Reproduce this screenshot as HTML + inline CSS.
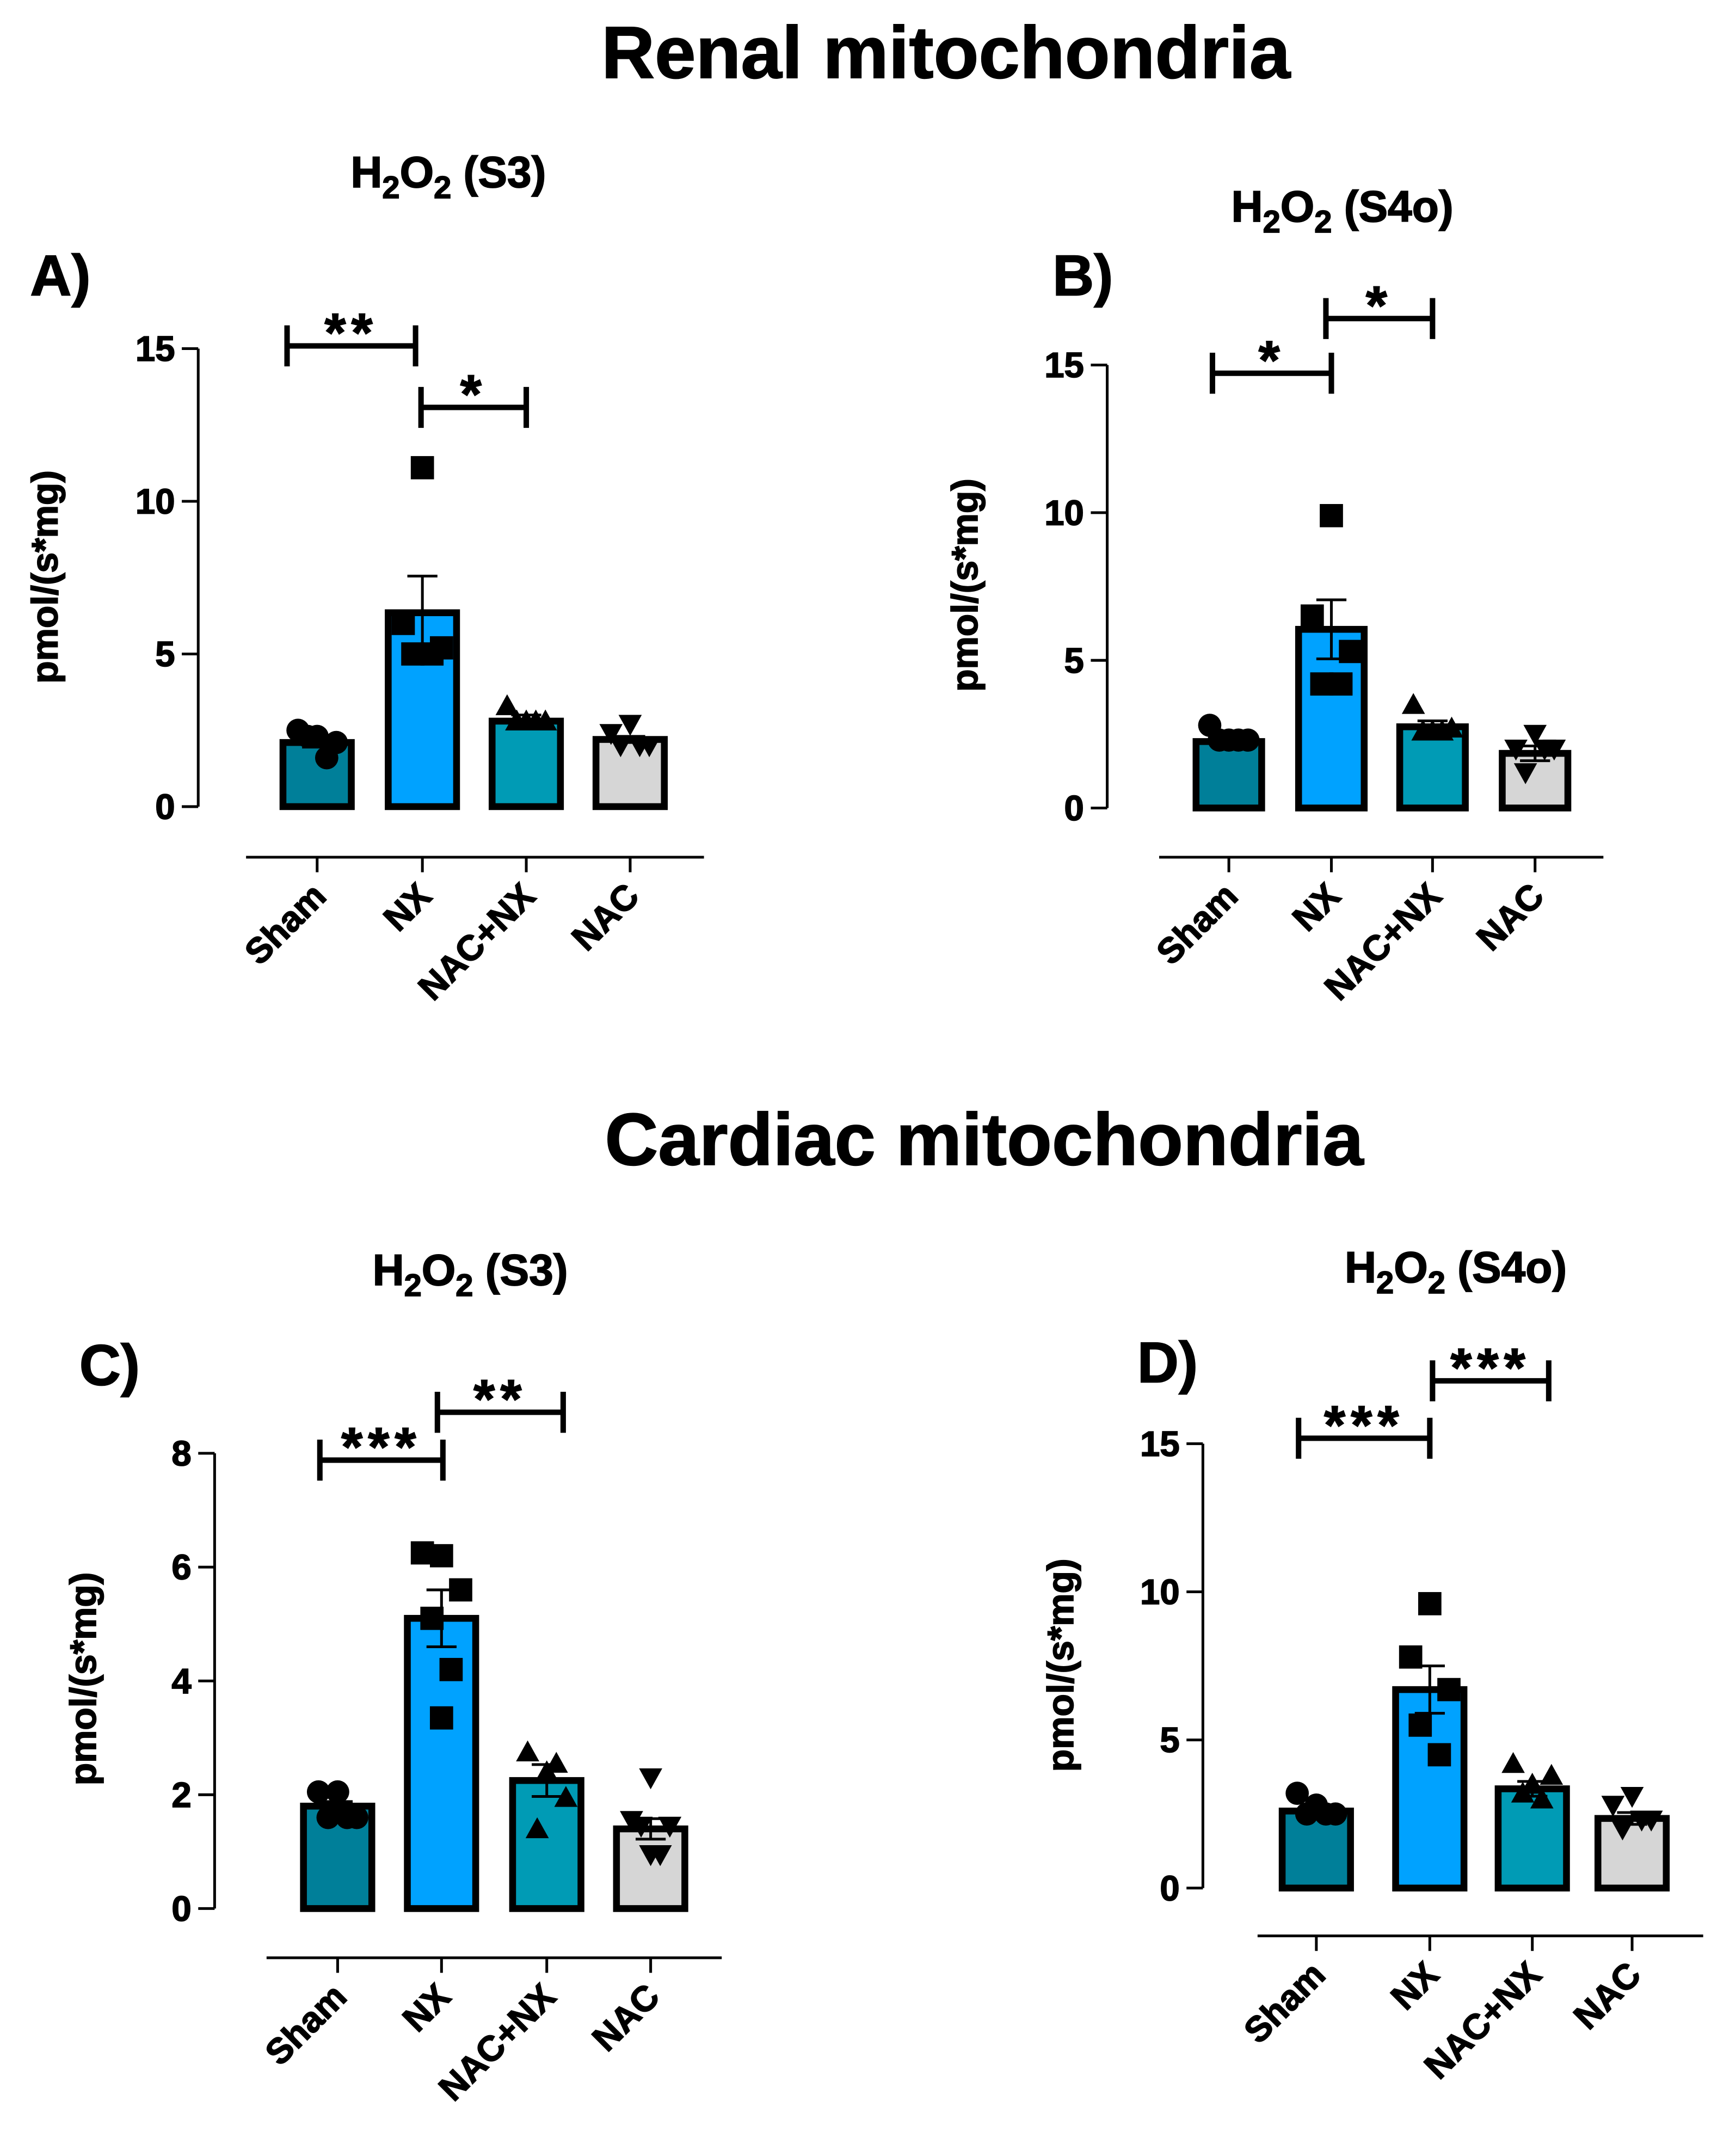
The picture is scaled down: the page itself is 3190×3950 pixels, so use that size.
<!DOCTYPE html>
<html><head><meta charset="utf-8"><style>
html,body{margin:0;padding:0;background:#fff;}
svg{display:block;font-family:"Liberation Sans",Arial,sans-serif;font-weight:bold;}
svg text{stroke:#000;stroke-width:0.7;}
</style></head><body>
<svg id="fig" width="3190" height="3950" viewBox="0 0 1270 1572.6" xmlns="http://www.w3.org/2000/svg">
<rect width="1270" height="1573" fill="#fff"/>
<text x="692" y="57" font-size="54" text-anchor="middle">Renal mitochondria</text>
<text x="720" y="852" font-size="54" text-anchor="middle">Cardiac mitochondria</text>
</svg>
<script>
const categories=["Sham","NX","NAC+NX","NAC"];
const colors=["#007f99","#00a2ff","#009bb5","#d6d6d6"];
const markers=["circle","square","triangle","tridown"];
const meansA=[2.1,6.35,2.8,2.2];
const errA=[0.15,1.2,0.2,0.1];
const ptsA=[[2.5,2.3,2.1,2.3,1.6],[11.1,6.0,5.2,5.0,5.0],[3.3,2.8,2.8,2.8,2.8],[2.7,2.4,2.0,2.0,2.0]];
const meansB=[2.25,6.05,2.75,1.85];
const errB=[0.15,1.0,0.2,0.25];
const ptsB=[[2.8,2.3,2.3,2.3,2.3],[9.9,6.5,5.3,4.2,4.2],[3.5,2.6,2.7,2.6,2.6],[2.5,2.0,2.0,1.2,2.0]];
const meansC=[1.8,5.1,2.25,1.4];
const errC=[0.08,0.5,0.28,0.18];
const ptsC=[[2.05,2.05,1.6,1.6,1.6],[6.2,6.25,5.6,5.1,4.2,3.35],[2.75,2.4,1.95,1.4,2.55],[2.3,1.55,1.45,1.45,0.95,0.95]];
const meansD=[2.6,6.7,3.35,2.35];
const errD=[0.2,0.8,0.25,0.2];
const ptsD=[[3.2,2.8,2.5,2.5,2.5],[9.6,7.8,6.7,5.5,4.5],[4.2,3.5,3.8,3.2,3.0],[3.1,2.8,2.3,2.0,2.3]];
const ticksA=[0,5,10,15], ticksC=[0,2,4,6,8];

const NS="http://www.w3.org/2000/svg";
const svg=document.getElementById('fig');
function mk(tag,attrs,parent,txt){const e=document.createElementNS(NS,tag);for(const k in attrs)e.setAttribute(k,attrs[k]);if(txt!==undefined)e.textContent=txt;(parent||svg).appendChild(e);return e;}

const panels=[
 {id:"a",letter:"A)",lx:22,ly:216,tx:328,ty:137,ax:145,y0:590,ymax:15,ytop:255,cx:[232,309,385,461],bw:50,caty:627,cx0:180,cx1:515,ylx:32,yly:422,
  means:meansA,err:errA,pts:ptsA,ticks:ticksA,
  sig:[{x1:210,x2:304,y:253,s:"**"},{x1:308,x2:385,y:298,s:"*"}]},
 {id:"b",letter:"B)",lx:770,ly:216,tx:982,ty:162,ax:810,y0:591,ymax:15,ytop:267,cx:[899,974,1048,1123],bw:48,caty:627,cx0:848,cx1:1173,ylx:705,yly:428,
  means:meansB,err:errB,pts:ptsB,ticks:ticksA,
  sig:[{x1:887,x2:974,y:273,s:"*"},{x1:970,x2:1048,y:233,s:"*"}]},
 {id:"c",letter:"C)",lx:58,ly:1013,tx:344,ty:940,ax:157,y0:1396,ymax:8,ytop:1063,cx:[247,323,400,476],bw:50,caty:1432,cx0:195,cx1:528,ylx:60,yly:1228,
  means:meansC,err:errC,pts:ptsC,ticks:ticksC,
  sig:[{x1:234,x2:324,y:1068,s:"***"},{x1:320,x2:412,y:1033,s:"**"}]},
 {id:"d",letter:"D)",lx:832,ly:1011,tx:1065,ty:938,ax:880,y0:1381,ymax:15,ytop:1056,cx:[963,1046,1121,1194],bw:50,caty:1416,cx0:920,cx1:1246,ylx:775,yly:1218,
  means:meansD,err:errD,pts:ptsD,ticks:ticksA,
  sig:[{x1:950,x2:1046,y:1052,s:"***"},{x1:1048,x2:1133,y:1010,s:"***"}]}
];
const jitter=[[-14,0,14,-7,7,0],[0,-14,14,-7,7,0]];
panels.forEach(p=>{
 const g=mk('g',{});
 
 
 const Y=v=>p.y0-(v/p.ymax)*(p.y0-p.ytop);
 let t=mk('text',{x:p.lx,y:p.ly,'font-size':42},g,p.letter);
 
 t=mk('text',{x:p.tx,y:p.ty,'font-size':32,'text-anchor':'middle'},g);
 
 t.innerHTML='H<tspan font-size="23" dy="8">2</tspan><tspan dy="-8">O</tspan><tspan font-size="23" dy="8">2</tspan><tspan dy="-8"> ('+(p.id==='a'||p.id==='c'?'S3':'S4o')+')</tspan>';
 let a=mk('line',{x1:p.ax,y1:p.y0,x2:p.ax,y2:p.ytop,stroke:'#000','stroke-width':2},g);
 
 p.ticks.forEach(v=>{
  mk('line',{x1:p.ax-12,y1:Y(v),x2:p.ax,y2:Y(v),stroke:'#000','stroke-width':2},g);
  const tl=mk('text',{x:p.ax-17,y:Y(v)+9,'font-size':26,'text-anchor':'end'},g,String(v));
  
 });
 const yl=mk('text',{x:p.ylx,y:p.yly,'font-size':27,'text-anchor':'middle',transform:`rotate(-90 ${p.ylx} ${p.yly})`,dy:10},g,'pmol/(s*mg)');
 
 const xa=mk('line',{x1:p.cx0,y1:p.caty,x2:p.cx1,y2:p.caty,stroke:'#000','stroke-width':2},g);
 
 categories.forEach((c,i)=>{
  const x=p.cx[i];
  mk('line',{x1:x,y1:p.caty,x2:x,y2:p.caty+11,stroke:'#000','stroke-width':2},g);
  const lx=x+8,ly=p.caty+30;
  const cl=mk('text',{x:lx,y:ly,'font-size':26,'text-anchor':'end',transform:`rotate(-45 ${lx} ${ly})`},g,c);
  
  const top=Y(p.means[i]);
  const b=mk('rect',{x:x-p.bw/2,y:top,width:p.bw,height:p.y0-top,fill:colors[i],stroke:'#000','stroke-width':5},g);
  
  const et=Y(p.means[i]+p.err[i]),eb=Y(p.means[i]-p.err[i]);
  mk('line',{x1:x,y1:et,x2:x,y2:eb,stroke:'#000','stroke-width':2},g);
  mk('line',{x1:x-11,y1:et,x2:x+11,y2:et,stroke:'#000','stroke-width':2},g);
  mk('line',{x1:x-11,y1:eb,x2:x+11,y2:eb,stroke:'#000','stroke-width':2},g);
  p.pts[i].forEach((v,k)=>{
   const px=x+jitter[i%2][k%6],py=Y(v),r=8.5;let m;
   if(markers[i]==='circle')m=mk('circle',{cx:px,cy:py,r:r,fill:'#000'},g);
   else if(markers[i]==='square')m=mk('rect',{x:px-r,y:py-r,width:2*r,height:2*r,fill:'#000'},g);
   else if(markers[i]==='triangle')m=mk('polygon',{points:`${px},${py-r} ${px-r},${py+r*0.8} ${px+r},${py+r*0.8}`,fill:'#000'},g);
   else m=mk('polygon',{points:`${px},${py+r} ${px-r},${py-r*0.8} ${px+r},${py-r*0.8}`,fill:'#000'},g);
   
  });
 });
 p.sig.forEach(s=>{
  const sg=mk('g',{},g);
  
  mk('line',{x1:s.x1,y1:s.y,x2:s.x2,y2:s.y,stroke:'#000','stroke-width':4},sg);
  mk('line',{x1:s.x1,y1:s.y-15,x2:s.x1,y2:s.y+15,stroke:'#000','stroke-width':4},sg);
  mk('line',{x1:s.x2,y1:s.y-15,x2:s.x2,y2:s.y+15,stroke:'#000','stroke-width':4},sg);
  mk('text',{x:(s.x1+s.x2)/2,y:s.y+4,'font-size':40,'text-anchor':'middle','letter-spacing':4},sg,s.s);
 });
});
</script>
</body></html>
